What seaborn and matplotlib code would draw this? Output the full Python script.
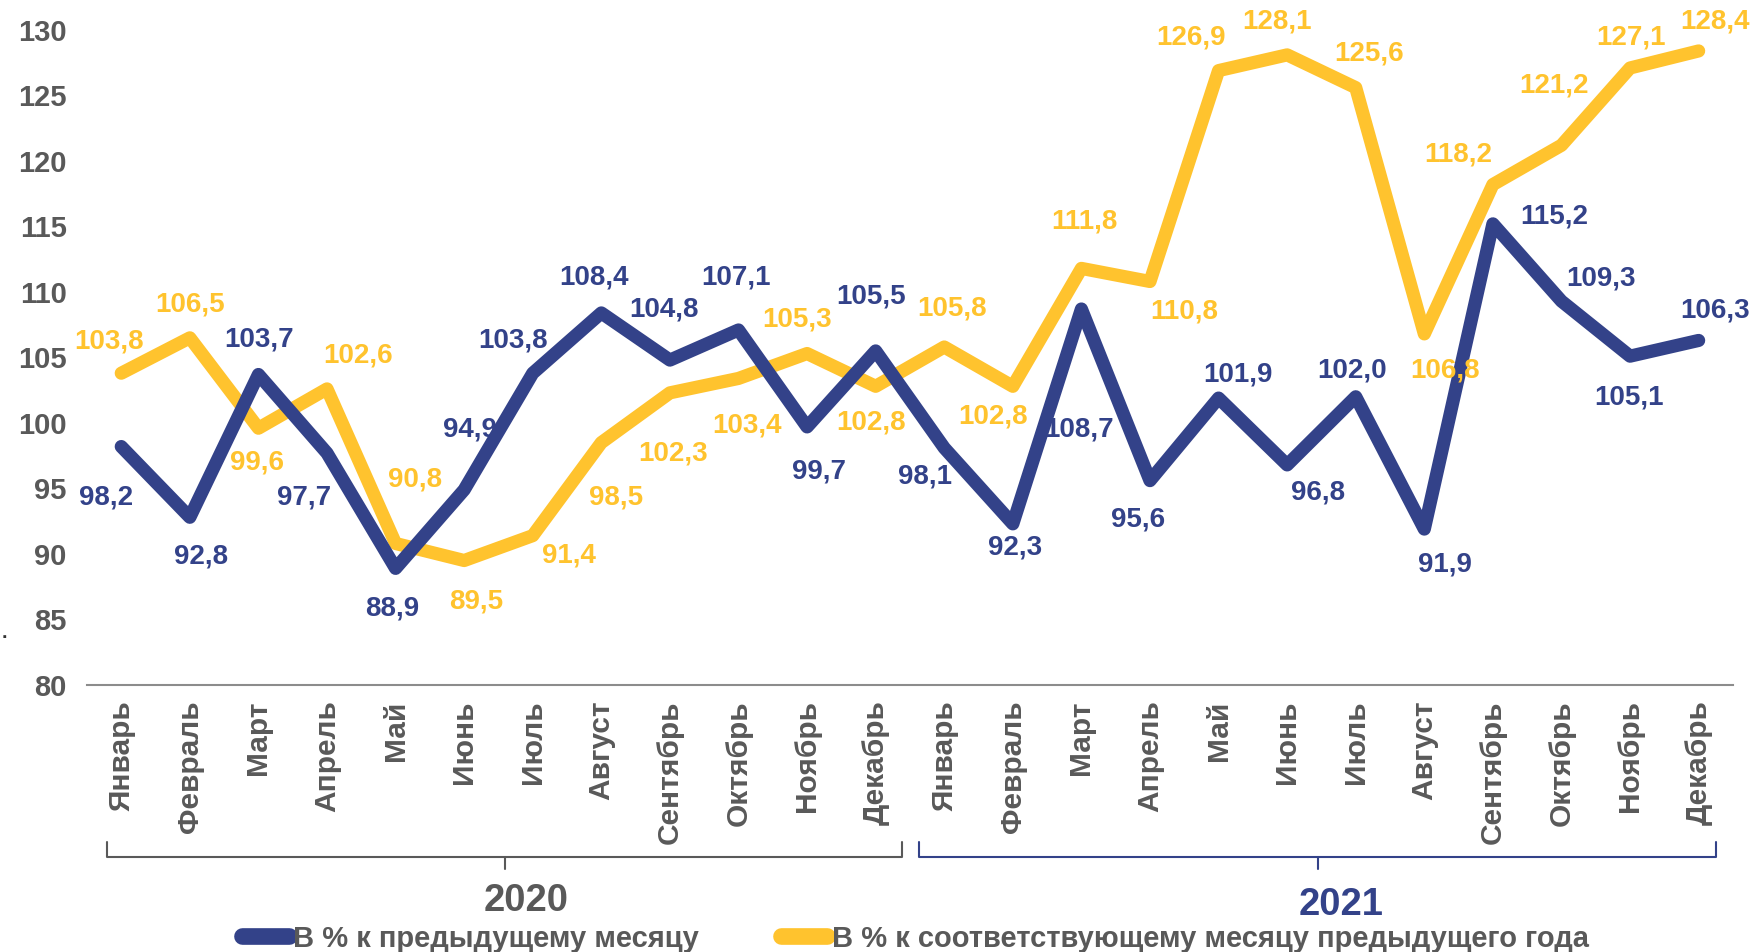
import numpy as np
import pandas as pd
import seaborn as sns
import matplotlib.pyplot as plt
from matplotlib.lines import Line2D
import matplotlib.transforms as mtransforms

months = ["Январь", "Февраль", "Март", "Апрель", "Май", "Июнь", "Июль",
          "Август", "Сентябрь", "Октябрь", "Ноябрь", "Декабрь"] * 2
years = ["2020", "2021"]
mom = [98.2, 92.8, 103.7, 97.7, 88.9, 94.9, 103.8, 108.4, 104.8, 107.1, 99.7, 105.5,
       98.1, 92.3, 108.7, 95.6, 101.9, 96.8, 102.0, 91.9, 115.2, 109.3, 105.1, 106.3]
yoy = [103.8, 106.5, 99.6, 102.6, 90.8, 89.5, 91.4, 98.5, 102.3, 103.4, 105.3, 102.8,
       105.8, 102.8, 111.8, 110.8, 126.9, 128.1, 125.6, 106.8, 118.2, 121.2, 127.1, 128.4]
s_mom = "В % к предыдущему месяцу"
s_yoy = "В % к соответствующему месяцу предыдущего года"

# label offsets in pixels (dx, dy with dy positive = down)
off_mom = [(-15, 51), (11, 39), (1, -35), (-23, 44), (-3, 40), (6, -60), (-20, -33),
           (-7, -35), (-6, -51), (-2, -52), (12, 45), (-5, -54), (-19, 29), (2, 24),
           (-2, 120), (-12, 39), (19, -24), (31, 28), (-4, -26), (21, 35), (61, -7),
           (40, -23), (-1, 41), (16, -30)]
off_yoy = [(-12, -32), (0, -33), (-1, 34), (31, -33), (19, -64), (12, 41), (36, 20),
           (15, 55), (3, 61), (9, 47), (-10, -34), (-5, 36), (8, -38), (-20, 30),
           (3, -47), (34, 30), (-28, -33), (-10, -33), (13, -34), (21, 37), (-35, -30),
           (-7, -60), (1, -30), (16, -29)]

NAVY = "#334289"
YELLOW = "#FFC32E"
GRAY = "#595959"

sns.set_style("white")
plt.rcParams['font.family'] = ['Liberation Sans', 'DejaVu Sans']
plt.rcParams['font.weight'] = 'bold'

idx = np.arange(len(months))
df = pd.DataFrame({
    "idx": np.concatenate([idx, idx]),
    "value": mom + yoy,
    "series": [s_mom] * len(mom) + [s_yoy] * len(yoy),
})

fig = plt.figure(figsize=(17.57, 9.52), dpi=100)
ax = fig.add_axes([0.0495, 0.2805, 0.9368, 0.688])

sns.lineplot(data=df, x="idx", y="value", hue="series", hue_order=[s_yoy, s_mom],
             palette={s_mom: NAVY, s_yoy: YELLOW}, lw=9.5, legend=False, ax=ax,
             solid_capstyle="round", solid_joinstyle="round")

for vals, offs, col in [(mom, off_mom, NAVY), (yoy, off_yoy, YELLOW)]:
    for i, (v, (dx, dy)) in enumerate(zip(vals, offs)):
        ax.annotate(f"{v:.1f}".replace(".", ","), (i, v), xytext=(dx, -dy),
                    textcoords="offset pixels", ha="center", va="center",
                    fontsize=20, fontweight="bold", color=col)

ax.set_xlim(-0.5, 23.5)
ax.set_ylim(80, 130)
ax.set_yticks(range(80, 131, 5))
ax.set_xticks(idx)
ax.set_xticklabels(months, rotation=90, fontsize=21.5, color=GRAY, fontweight="bold")
ax.set_xticks(np.arange(-0.5, 24, 1), minor=True)
ax.tick_params(axis="x", which="both", direction="inout", length=12, width=1.2,
               color="#7f7f7f", pad=5)
ax.tick_params(axis="y", length=0, pad=14.5, labelsize=21, labelcolor=GRAY)
for lab in ax.get_yticklabels():
    lab.set_fontweight("bold")
ax.set_xlabel("")
ax.set_ylabel("")
for s in ["top", "right", "left"]:
    ax.spines[s].set_visible(False)
ax.spines["bottom"].set_color("#8c8c8c")
ax.spines["bottom"].set_linewidth(1.5)

# year brackets
tr = mtransforms.blended_transform_factory(ax.transData, ax.transAxes)
for (x0, x1, tx, ty), yr, col in zip([(-0.21, 11.39, 5.91, -0.33), (11.63, 23.26, 17.78, -0.336)],
                                     years, [GRAY, NAVY]):
    xc = (x0 + x1) / 2
    ax.plot([x0, x0, x1, x1], [-0.24, -0.263, -0.263, -0.24], color=col, lw=1.5,
            transform=tr, clip_on=False)
    ax.plot([xc, xc], [-0.263, -0.281], color=col, lw=1.5, transform=tr, clip_on=False)
    ax.text(tx, ty, yr, transform=tr, ha="center", va="center", fontsize=27.5,
            fontweight="bold", color=col)

fig.text(0.001, 0.335, ".", fontsize=14, color="#333333", ha="left", va="center")

handles = [Line2D([], [], color=NAVY, lw=12, solid_capstyle="round"),
           Line2D([], [], color=YELLOW, lw=12, solid_capstyle="round")]
leg = fig.legend(handles, [s_mom, s_yoy], loc="center", bbox_to_anchor=(0.521, 0.014),
                 ncol=2, frameon=False, handlelength=1.6, handletextpad=0.15,
                 columnspacing=2.8, prop={"size": 21, "weight": "bold"})
for t in leg.get_texts():
    t.set_color(GRAY)

fig.savefig("out.png", dpi=100)
